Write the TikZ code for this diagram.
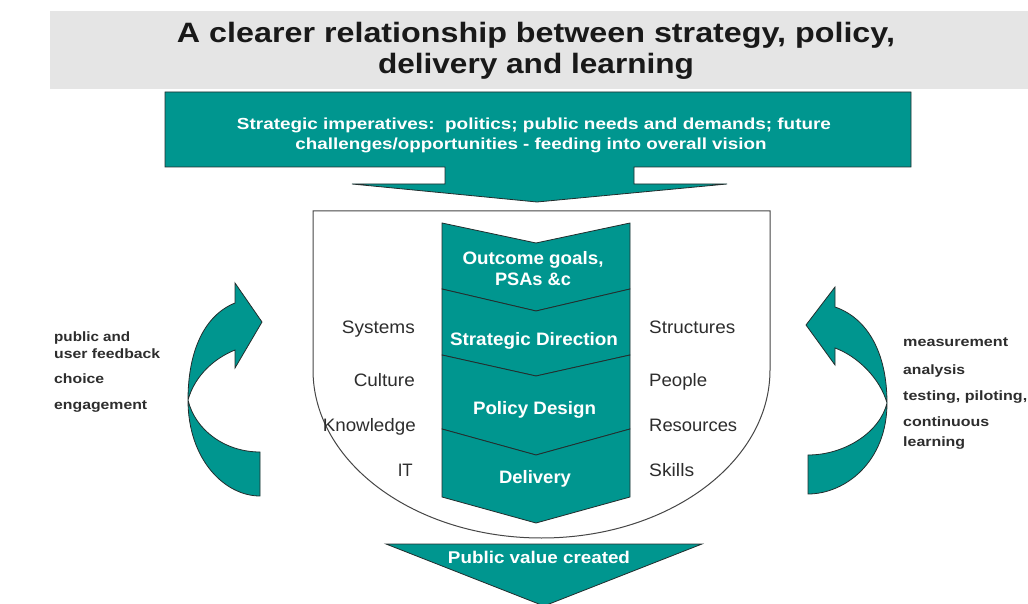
\documentclass[tikz,border=0pt]{standalone}
\usepackage{fontspec}
\setmainfont{Liberation Sans}
\usepackage{graphicx}
\newcommand{\fw}[2]{\resizebox{#1pt}{\height}{#2}}
\definecolor{tealc}{RGB}{0,150,143}
\definecolor{bannergray}{RGB}{229,229,229}
\definecolor{edgec}{RGB}{35,45,45}
\definecolor{txtc}{RGB}{45,45,45}
\definecolor{titlec}{RGB}{25,25,25}
\definecolor{shieldc}{RGB}{70,70,70}
\begin{document}
\begin{tikzpicture}[x=1pt,y=-1pt,
  tealfill/.style={fill=tealc, draw=edgec, line width=0.8pt, line join=miter},
  ttl/.style={inner sep=0, anchor=base, text=titlec, font=\fontsize{28}{28}\selectfont\bfseries},
  boxtxt/.style={inner sep=0, anchor=base, text=white, font=\fontsize{16}{16}\selectfont\bfseries},
  chev/.style={inner sep=0, anchor=base, text=white, font=\fontsize{18}{18}\selectfont\bfseries},
  lside/.style={inner sep=0, anchor=base east, text=txtc, font=\fontsize{18}{18}\selectfont},
  rside/.style={inner sep=0, anchor=base west, text=txtc, font=\fontsize{18}{18}\selectfont},
  small/.style={inner sep=0, anchor=base west, text=txtc, font=\fontsize{13.5}{13.5}\selectfont\bfseries}
]
\useasboundingbox (0,0) rectangle (1028,604);
% title banner
\fill[bannergray] (50,11) rectangle (1028,89);
\node[ttl] (t1) at (536,43) {\fw{718}{A clearer relationship between strategy, policy,}};
\node[ttl] (t2) at (536,74) {\fw{316}{delivery and learning}};
% top arrow
\draw[tealfill] (165,92) -- (911,92) -- (911,167) -- (634,167) -- (634,184) -- (727,184)
  -- (537,202) -- (352,184) -- (445,184) -- (445,167) -- (165,167) -- cycle;
\node[boxtxt] (s1) at (534,130) {\fw{594}{Strategic imperatives:\ \ politics; public needs and demands; future}};
\node[boxtxt] (s2) at (531,150) {\fw{471}{challenges/opportunities - feeding into overall vision}};
% shield
\draw[draw=shieldc, line width=1pt, fill=white] (313,211) -- (770,211) -- (770,370)
  .. controls (770,462.8) and (667.7,538) .. (541.5,538)
  .. controls (415.3,538) and (313,462.8) .. (313,370) -- cycle;
% chevron column
\draw[tealfill] (442,223) -- (536,243) -- (630,223) -- (630,289) -- (536,311) -- (442,289) -- cycle;
\draw[tealfill] (442,289) -- (536,311) -- (630,289) -- (630,355) -- (536,376) -- (442,355) -- cycle;
\draw[tealfill] (442,355) -- (536,376) -- (630,355) -- (630,429) -- (536,455) -- (442,429) -- cycle;
\draw[tealfill] (442,429) -- (536,455) -- (630,429) -- (630,497) -- (536,523) -- (442,497) -- cycle;
\node[chev] (c1a) at (533,265) {\fw{141}{Outcome goals,}};
\node[chev] (c1b) at (533,285) {\fw{76}{PSAs \&c}};
\node[chev] (c2) at (534,345.5) {\fw{168}{Strategic Direction}};
\node[chev] (c3) at (534.5,414) {\fw{123}{Policy Design}};
\node[chev] (c4) at (535,483) {\fw{72}{Delivery}};
% side labels
\node[lside] (l1) at (415,333) {\fw{73}{Systems}};
\node[lside] (l2) at (415,386) {\fw{61}{Culture}};
\node[lside] (l3) at (416,431) {\fw{93}{Knowledge}};
\node[lside] (l4) at (413,476) {\fw{15}{IT}};
\node[rside] (r1) at (649,333) {\fw{86}{Structures}};
\node[rside] (r2) at (649,386) {\fw{58}{People}};
\node[rside] (r3) at (649,431) {\fw{88}{Resources}};
\node[rside] (r4) at (649,476) {\fw{45}{Skills}};
% bottom arrow
\draw[tealfill] (386,544) -- (702,544) -- (544,606) -- cycle;
\node[chev, font=\fontsize{17}{17}\selectfont\bfseries] (pv) at (539,563.5) {\fw{182}{Public value created}};
% left curved arrow
\draw[tealfill] (260,496) .. controls (225,496) and (188,460) .. (188,400)
  .. controls (188,350) and (205,315) .. (235,303) -- (235,283) -- (262,322) -- (235,368) -- (235,350)
  .. controls (215,358) and (195,375) .. (188,400)
  .. controls (195,430) and (225,452) .. (260,452) -- cycle;
% right curved arrow
\draw[tealfill] (808,494) .. controls (845,494) and (887,462) .. (887,403)
  .. controls (887,352) and (867,318) .. (835,307) -- (835,287) -- (806,325) -- (835,365) -- (835,348)
  .. controls (857,356) and (880,378) .. (887,403)
  .. controls (880,432) and (845,455) .. (808,455) -- cycle;
% left small labels
\node[small] (a1) at (54,341) {\fw{76}{public and}};
\node[small] (a2) at (54,358.5) {\fw{106}{user feedback}};
\node[small] (a3) at (54,383) {\fw{50}{choice}};
\node[small] (a4) at (54,409) {\fw{93}{engagement}};
% right small labels
\node[small] (b1) at (903,346) {\fw{105}{measurement}};
\node[small] (b2) at (903,374) {\fw{62}{analysis}};
\node[small] (b3) at (903,400.5) {\fw{124}{testing, piloting,}};
\node[small] (b4) at (903,426.5) {\fw{86}{continuous}};
\node[small] (b5) at (903,446) {\fw{62}{learning}};
\end{tikzpicture}
\end{document}
